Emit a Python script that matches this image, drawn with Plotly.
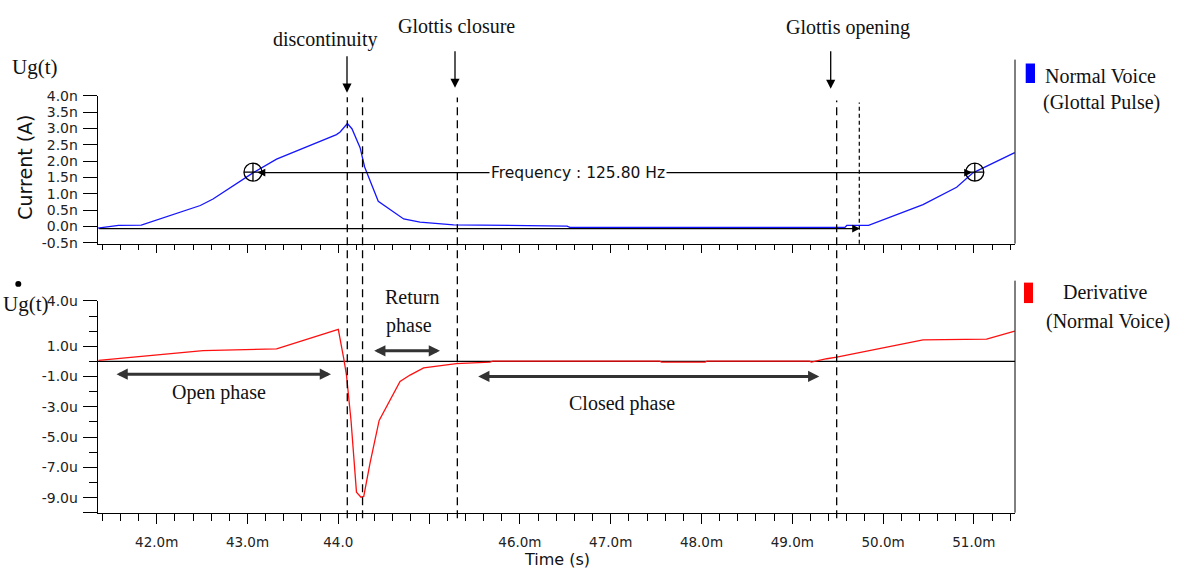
import plotly.graph_objects as go

# ---------------- data (time in ms) ----------------
pulse_t = [41.35, 41.58, 41.83, 42.48, 42.62, 43.06, 43.32, 43.98, 44.02, 44.10, 44.15,
           44.24, 44.29, 44.44, 44.72, 44.90, 45.27, 46.52, 46.55, 49.58, 49.60, 49.84,
           50.44, 50.81, 50.99, 51.45]
pulse_v = [-0.05, 0.03, 0.04, 0.64, 0.84, 1.64, 2.06, 2.81, 2.89, 3.15, 2.99,
           2.41, 1.82, 0.77, 0.23, 0.13, 0.05, 0.01, -0.03, -0.03, 0.03, 0.03,
           0.67, 1.20, 1.64, 2.26]

deriv_t = [41.36, 42.51, 43.32, 43.98, 44.00, 44.06, 44.09, 44.14, 44.20, 44.25, 44.28,
           44.35, 44.45, 44.68, 44.79, 44.94, 45.16, 45.30, 45.67, 45.70, 47.54, 47.56,
           48.04, 48.06, 49.19, 49.21, 49.38, 49.49, 50.44, 51.14, 51.45]
deriv_v = [0.07, 0.72, 0.83, 2.12, 2.12, 0.18, -0.90, -3.90, -8.64, -8.97, -8.92,
           -6.70, -3.90, -1.32, -0.90, -0.42, -0.25, -0.14, -0.05, 0.02, 0.02, -0.04,
           -0.04, 0.02, 0.02, -0.04, 0.18, 0.29, 1.43, 1.47, 2.00]

cursor_t = [43.06, 51.01]
cursor_v = [1.66, 1.66]

x_tickvals = [42, 43, 44, 45, 46, 47, 48, 49, 50, 51]
x_ticktext = ["42.0m", "43.0m", "44.0", "", "46.0m", "47.0m", "48.0m", "49.0m", "50.0m", "51.0m"]
y1_tickvals = [-0.5, 0.0, 0.5, 1.0, 1.5, 2.0, 2.5, 3.0, 3.5, 4.0]
y1_ticktext = ["-0.5n", "0.0n", "0.5n", "1.0n", "1.5n", "2.0n", "2.5n", "3.0n", "3.5n", "4.0n"]
y2_tickvals = [-10, -9, -7, -5, -3, -1, 1, 4]
y2_ticktext = ["", "-9.0u", "-7.0u", "-5.0u", "-3.0u", "-1.0u", "1.0u", "4.0u"]

event_t = [44.099, 44.267, 45.311, 49.489]   # long dashed markers
open_t = 49.738                              # short dotted marker (top only)

# ---------------- layout helpers ----------------
W, H = 1184, 573
def PX(p): return p / W
def PY(p): return 1 - p / H

SERIF = "Liberation Serif, Times New Roman, serif"
SANS = "DejaVu Sans, Verdana, sans-serif"

fig = go.Figure()
fig.add_trace(go.Scatter(x=pulse_t, y=pulse_v, mode="lines", line=dict(color="#1515ff", width=1.3),
                         xaxis="x", yaxis="y", showlegend=False))
fig.add_trace(go.Scatter(x=deriv_t, y=deriv_v, mode="lines", line=dict(color="#ff1010", width=1.3),
                         xaxis="x2", yaxis="y2", showlegend=False))
fig.add_trace(go.Scatter(x=cursor_t, y=cursor_v, mode="markers",
                         marker=dict(symbol="circle-cross-open", size=18, color="black", line=dict(width=1.3)),
                         xaxis="x", yaxis="y", showlegend=False))

xr = [41.35, 51.453]
xdom = [PX(97.7), PX(1015)]
common_x = dict(range=xr, domain=xdom, showline=True, linecolor="black", linewidth=1,
                showgrid=False, zeroline=False, ticks="outside", tickcolor="black",
                tickvals=x_tickvals, ticktext=x_ticktext)
fig.update_layout(
    width=W, height=H, margin=dict(l=0, r=0, t=0, b=0),
    paper_bgcolor="white", plot_bgcolor="white",
    xaxis=dict(**common_x, anchor="y", ticklen=8, showticklabels=False,
               minor=dict(dtick=0.2, tick0=42, ticklen=5, ticks="outside", tickcolor="black")),
    xaxis2=dict(**common_x, anchor="y2", ticklen=10, showticklabels=True,
                tickfont=dict(family=SANS, size=13.5, color="#222"), ticklabelstandoff=7,
                minor=dict(dtick=0.2, tick0=42, ticklen=7, ticks="outside", tickcolor="black")),
    yaxis=dict(domain=[PY(242), PY(90)], range=[-0.527, 4.002], anchor="x",
               showline=True, linecolor="black", linewidth=1, showgrid=False, zeroline=False,
               ticks="outside", ticklen=14, tickcolor="black",
               tickvals=y1_tickvals, ticktext=y1_ticktext, ticklabelstandoff=2,
               tickfont=dict(family=SANS, size=14, color="#222")),
    yaxis2=dict(domain=[PY(518.3), PY(300.8)], range=[-10, 4.002], anchor="x2",
                showline=True, linecolor="black", linewidth=1, showgrid=False, zeroline=False,
                ticks="outside", ticklen=14, tickcolor="black",
                tickvals=y2_tickvals, ticktext=y2_ticktext, ticklabelstandoff=2,
                tickfont=dict(family=SANS, size=14, color="#222"),
                minor=dict(dtick=1, tick0=0, ticklen=8, ticks="outside", tickcolor="black")),
)

shapes = []
# right borders
shapes.append(dict(type="line", xref="paper", yref="paper", x0=PX(1015), x1=PX(1015),
                   y0=PY(242), y1=PY(53), line=dict(color="black", width=1)))
shapes.append(dict(type="line", xref="paper", yref="paper", x0=PX(1015), x1=PX(1015),
                   y0=PY(518.3), y1=PY(280), line=dict(color="black", width=1)))
# zero line in derivative panel
shapes.append(dict(type="line", xref="x2", yref="y2", x0=xr[0], x1=xr[1], y0=0, y1=0,
                   line=dict(color="black", width=1.2), layer="below"))
# event dashed lines spanning both panels
tops = [91.7, 92, 92, 95]
for t, tp in zip(event_t, tops):
    shapes.append(dict(type="line", xref="x", yref="paper", x0=t, x1=t, y0=PY(524), y1=PY(tp),
                       line=dict(color="black", width=1.3, dash="8px,5px")))
shapes.append(dict(type="line", xref="x", yref="paper", x0=open_t, x1=open_t, y0=PY(242), y1=PY(97),
                   line=dict(color="black", width=1.2, dash="4px,3px")))
# legend swatches
shapes.append(dict(type="rect", xref="paper", yref="paper", x0=PX(1025.7), x1=PX(1035),
                   y0=PY(77), y1=PY(57), fillcolor="#0000ff", line=dict(width=0)))
shapes.append(dict(type="rect", xref="paper", yref="paper", x0=PX(1024), x1=PX(1033),
                   y0=PY(303), y1=PY(282), fillcolor="#ff0000", line=dict(width=0)))
# derivative dot over "Ug(t)"
shapes.append(dict(type="circle", xref="paper", yref="paper", x0=PX(15.3), x1=PX(21.3),
                   y0=PY(286.3), y1=PY(280.3), fillcolor="black", line=dict(width=0)))
fig.update_layout(shapes=shapes)

ann = []
def text(s, x, y, size=20, family=SERIF, **kw):
    ann.append(dict(text=s, x=PX(x), y=PY(y), xref="paper", yref="paper", showarrow=False,
                    font=dict(family=family, size=size, color="#111"), xanchor="center",
                    yanchor="middle", **kw))

def arrow(x0, y0, x1, y1, width, size, color="black", both=False):
    ann.append(dict(text="", x=PX(x1), y=PY(y1), xref="paper", yref="paper", showarrow=True,
                    ax=x0 - x1, ay=y0 - y1, axref="pixel", ayref="pixel",
                    arrowhead=2, startarrowhead=2, arrowsize=size, startarrowsize=size,
                    arrowwidth=width, arrowcolor=color, standoff=0, startstandoff=0,
                    arrowside="end+start" if both else "end"))

# top annotations
text("discontinuity", 325, 32)
arrow(347, 49, 347, 87, 1.3, 1.4)
text("Glottis closure", 456.7, 18)
arrow(455, 44, 455, 82, 1.3, 1.4)
text("Glottis opening", 848, 20)
arrow(830.7, 44, 830.7, 83, 1.3, 1.4)

# frequency cursor line
arrow(256, 169, 972, 169, 1.3, 1.2, both=True)
text("Frequency : 125.80 Hz", 578, 169, size=15.5, family=SANS, bgcolor="white", borderpad=1)
# zero line top with arrow
arrow(97.7, 226.5, 860, 226.5, 1.3, 1.2)

# phase arrows
arrow(115, 376, 331, 376, 3, 0.75, color="#333", both=True)
text("Open phase", 219, 395)
arrow(372.7, 352, 440, 352, 3, 0.75, color="#333", both=True)
text("Return", 411.7, 297)
text("phase", 408.5, 326)
arrow(476.7, 378.3, 819.3, 378.3, 3, 0.75, color="#333", both=True)
text("Closed phase", 621.7, 406)

# axis labels
text("Ug(t)", 35, 61, size=21)
text("Ug(t)", 26, 304, size=21)
text("Current (A)", 25, 164, size=19, family=SANS, textangle=-90)
text("Time (s)", 557, 566, size=16, family=SANS)

# legend text
text("Normal Voice", 1100, 70)
text("(Glottal Pulse)", 1101, 97)
text("Derivative", 1105, 292)
text("(Normal Voice)", 1108, 322)

fig.update_layout(annotations=ann)
fig.write_html("out.html")
